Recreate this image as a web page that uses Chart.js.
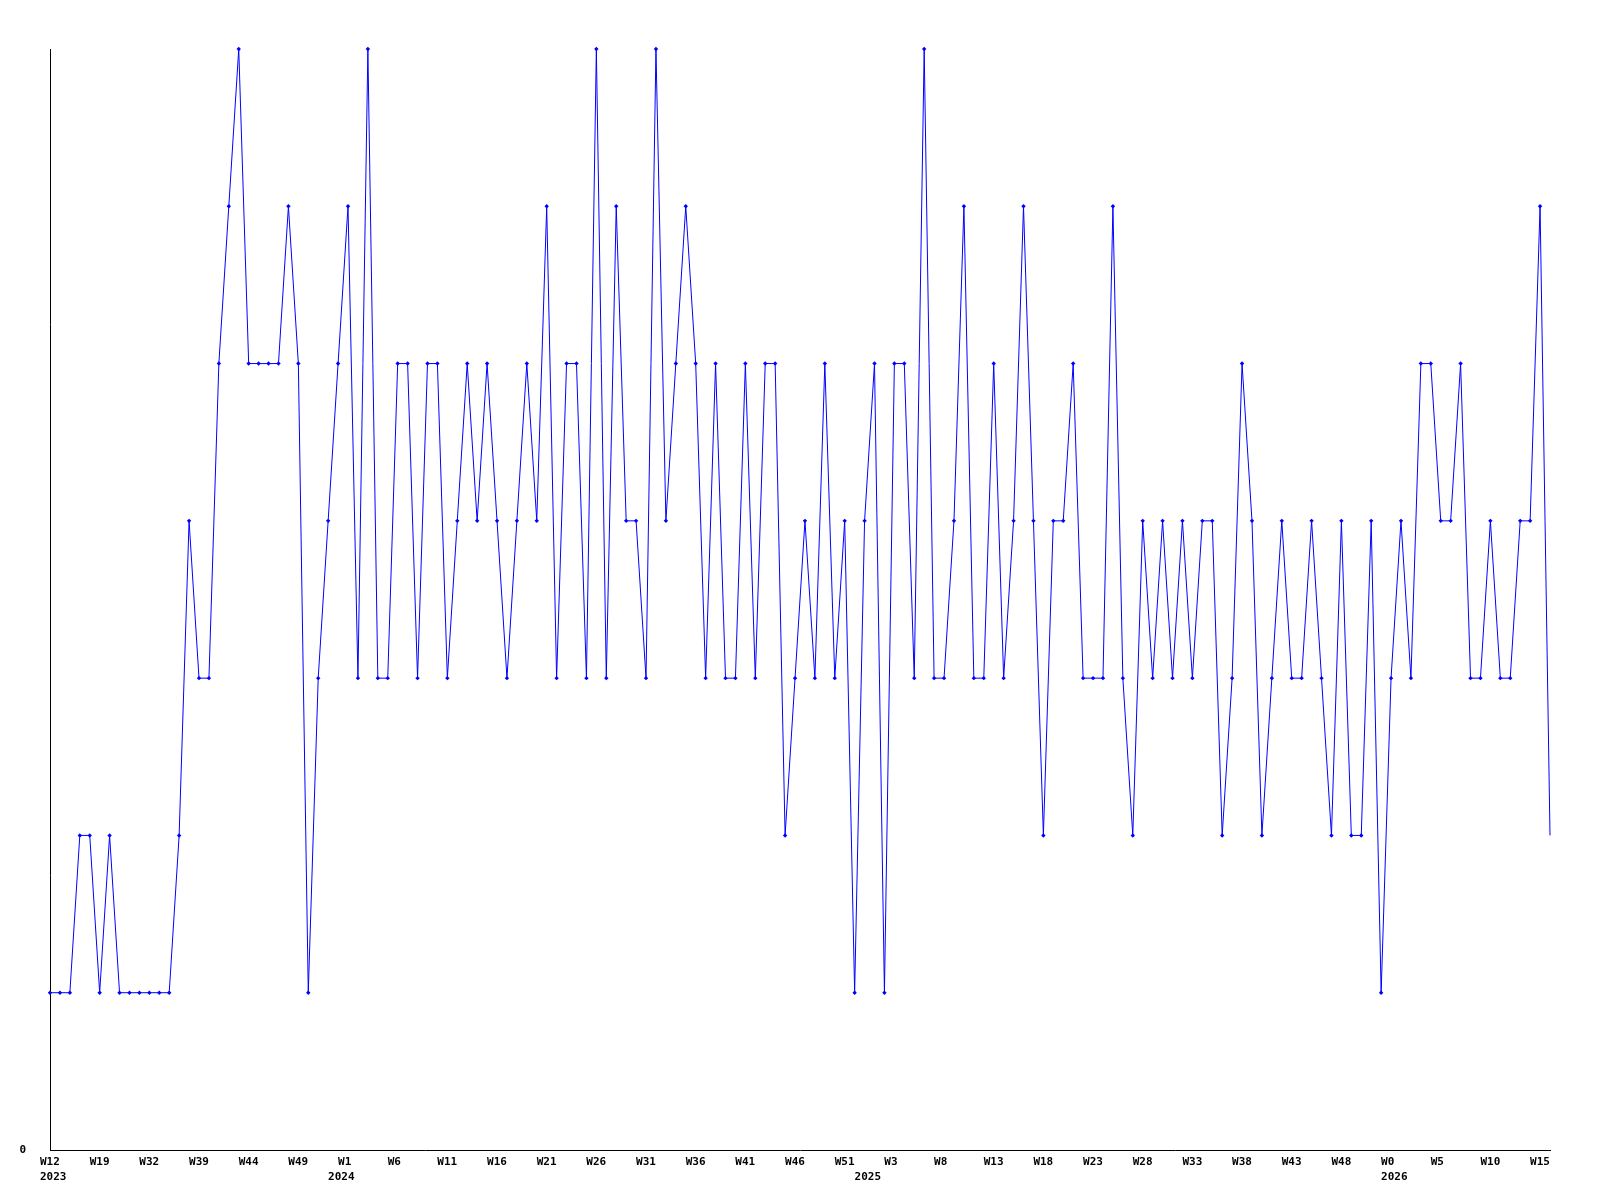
<!DOCTYPE html>
<html>
<head>
<meta charset="utf-8">
<script src="https://cdn.jsdelivr.net/npm/chart.js@4.4.1/dist/chart.umd.min.js"></script>
<style>
html,body{margin:0;padding:0;background:#fff;}
#wrap{width:1600px;height:1200px;position:relative;}
</style>
</head>
<body>
<div id="wrap"><canvas id="c"></canvas></div>
<script>
// weekly values, one per point
const values = [
  1,1,1,2,2,1,2,1,1,1,
  1,1,1,2,4,3,3,5,6,7,
  5,5,5,5,6,5,1,3,4,5,
  6,3,7,3,3,5,5,3,5,5,
  3,4,5,4,5,4,3,4,5,4,
  6,3,5,5,3,7,3,6,4,4,
  3,7,4,5,6,5,3,5,3,3,
  5,3,5,5,2,3,4,3,5,3,
  4,1,4,5,1,5,5,3,7,3,
  3,4,6,3,3,5,3,4,6,4,
  2,4,4,5,3,3,3,6,3,2,
  4,3,4,3,4,3,4,4,2,3,
  5,4,2,3,4,3,3,4,3,2,
  4,2,2,4,1,3,4,3,5,5,
  4,4,5,3,3,4,3,3,4,4,
  6,2
];
// week tick labels shown every 5th point
const weekTicks = ['W12','W19','W32','W39','W44','W49','W1','W6','W11','W16','W21','W26','W31','W36','W41','W46','W51','W3','W8','W13','W18','W23','W28','W33','W38','W43','W48','W0','W5','W10','W15'];
const tickEvery = 5;
// year labels and the point they start at
const yearLabels = ['2023','2024','2025','2026'];
const yearIndex = [0,29,82,135];
const yTickLabels = {0:'0'};

const categories = values.map((v,i)=>String(i));

function xLabel(i){
  const w = (i % tickEvery === 0 && weekTicks[i/tickEvery] !== undefined) ? weekTicks[i/tickEvery] : '';
  const yi = yearIndex.indexOf(i);
  const y = yi >= 0 ? yearLabels[yi] : '';
  if (!w && !y) return '';
  if (y) return [w, y];
  return w;
}

const font = {family:'"DejaVu Sans Mono", monospace', size:11, weight:'bold', lineHeight:'15px'};

new Chart(document.getElementById('c'), {
  type:'line',
  data:{
    labels:categories,
    datasets:[{
      data:values,
      borderColor:'#0000ff',
      backgroundColor:'#0000ff',
      borderWidth:1,
      tension:0,
      pointStyle:'rectRot',
      pointRadius:values.map((v,i)=> i===values.length-1 ? 0 : 2.2),
      pointBorderWidth:0,
      pointBackgroundColor:'#0000ff',
      clip:false,
      fill:false
    }]
  },
  options:{
    responsive:true,
    maintainAspectRatio:false,
    animation:false,
    devicePixelRatio:1,
    layout:{padding:{top:49,right:50,left:0,bottom:0}},
    plugins:{legend:{display:false},tooltip:{enabled:false}},
    scales:{
      x:{
        type:'category',
        offset:false,
        grid:{display:false,drawTicks:false},
        border:{display:true,color:'#000',width:1},
        ticks:{
          autoSkip:false,maxRotation:0,minRotation:0,
          align:'start',labelOffset:-10,padding:5,
          color:'#000',font:font,
          callback:(val,i)=>xLabel(i)
        },
        afterFit:s=>{s.height=50;}
      },
      y:{
        min:0,max:7,
        grid:{display:false,drawTicks:false},
        border:{display:true,color:'#000',width:1},
        ticks:{
          stepSize:1,padding:24,color:'#000',font:font,
          callback:v=> (yTickLabels[v]!==undefined ? yTickLabels[v] : '')
        },
        afterFit:s=>{s.width=50;}
      }
    }
  }
});
</script>
</body>
</html>
